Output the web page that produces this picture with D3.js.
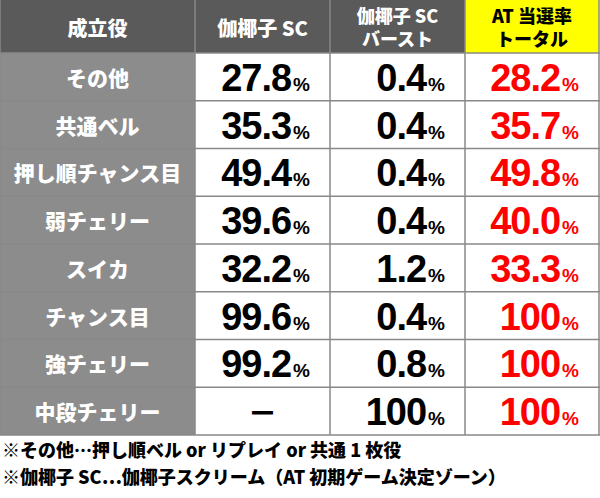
<!DOCTYPE html>
<html><head><meta charset="utf-8">
<script src="https://cdn.jsdelivr.net/npm/d3@7"></script>
<style>body{margin:0;background:#fff}</style>
</head><body><svg id="t" width="600" height="498"></svg>
<script>
const headers = [["成立役"], ["伽椰子 SC"], ["伽椰子 SC", "バースト"], ["AT 当選率", "トータル"]];
const roles = ["その他", "共通ベル", "押し順チャンス目", "弱チェリー", "スイカ", "チャンス目", "強チェリー", "中段チェリー"];
const scVals = ["27.8", "35.3", "49.4", "39.6", "32.2", "99.6", "99.2", null];
const burstVals = ["0.4", "0.4", "0.4", "0.4", "1.2", "0.4", "0.8", "100"];
const totalVals = ["28.2", "35.7", "49.8", "40.0", "33.3", "100", "100", "100"];
const notes = ["※その他…押し順ベル or リプレイ or 共通 1 枚役", "※伽椰子 SC…伽椰子スクリーム（AT 初期ゲーム決定ゾーン）"];

const font = "'Noto Sans CJK JP', 'Liberation Sans', sans-serif";
const svg = d3.select("#t");
const colX = [0, 195, 330, 465, 599];
const headH = 53;
const y = d3.scaleBand().domain(d3.range(roles.length)).range([headH, 435]);

// header
headers.forEach((h, i) => {
  svg.append("rect").attr("x", colX[i]).attr("y", 0).attr("width", colX[i+1]-colX[i]).attr("height", headH)
    .attr("fill", i === 3 ? "#ffff00" : "#5a5a5a");
  const cx = (colX[i] + colX[i+1]) / 2;
  h.forEach((line, k) => {
    svg.append("text").attr("x", cx).attr("y", h.length === 1 ? 27 : 15 + k * 23)
      .attr("text-anchor", "middle").attr("dominant-baseline", "central")
      .attr("font-family", font).attr("font-weight", 900).attr("font-size", h.length === 1 ? 20 : 18)
      .attr("fill", i === 3 ? "#000" : "#fff").text(line);
  });
});

const rows = svg.selectAll("g.row").data(roles).join("g").attr("class", "row")
  .attr("transform", (d, i) => `translate(0,${y(i)})`);
rows.append("rect").attr("width", colX[1]).attr("height", y.bandwidth()).attr("fill", "#8c8c8c");
rows.append("text").attr("x", colX[1]/2).attr("y", y.bandwidth()/2).attr("text-anchor", "middle")
  .attr("dominant-baseline", "central").attr("font-family", font).attr("font-weight", 900)
  .attr("font-size", 21).attr("fill", "#fff").text(d => d);

function valCell(vals, col, color) {
  rows.each(function(d, i) {
    const g = d3.select(this);
    const v = vals[i];
    const right = colX[col+1] - 20;
    if (v === null) {
      g.append("text").attr("x", (colX[col]+colX[col+1])/2).attr("y", y.bandwidth()/2)
        .attr("text-anchor", "middle").attr("dominant-baseline", "central")
        .attr("font-family", font).attr("font-weight", 900).attr("font-size", 30).attr("fill", color).text("－");
      return;
    }
    const t = g.append("text").attr("x", right).attr("y", y.bandwidth()/2 + 14)
      .attr("text-anchor", "end").attr("font-family", "'Liberation Sans', Arial, sans-serif")
      .attr("font-weight", 700).attr("fill", color);
    t.append("tspan").attr("font-size", 38).attr("letter-spacing", -1).text(v);
    t.append("tspan").attr("font-size", 19).attr("dx", 2).text("%");
  });
}
valCell(scVals, 1, "#000");
valCell(burstVals, 2, "#000");
valCell(totalVals, 3, "#ff0000");

// grid lines
const grid = svg.append("g").attr("stroke", "#888").attr("stroke-width", 1.5);
d3.range(roles.length + 1).forEach(i => {
  const yy = i === roles.length ? 435 : y(i);
  grid.append("line").attr("x1", 0).attr("x2", 600).attr("y1", yy).attr("y2", yy);
});
colX.forEach(x => grid.append("line").attr("x1", x).attr("x2", x).attr("y1", 0).attr("y2", 435));

notes.forEach((n, i) => svg.append("text").attr("x", 2).attr("y", 457 + i * 27)
  .attr("font-family", font).attr("font-weight", 900).attr("font-size", 18).attr("fill", "#000").text(n));
</script></body></html>
